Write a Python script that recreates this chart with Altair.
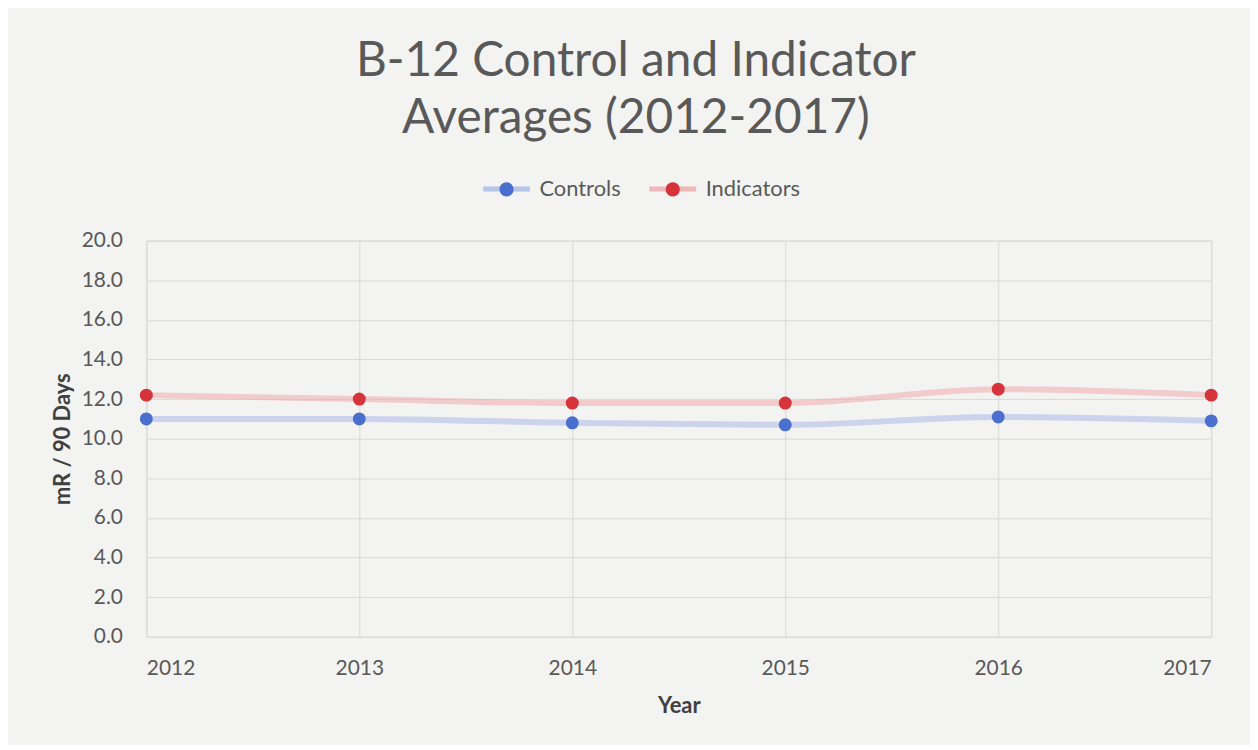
import altair as alt
import pandas as pd

years = [2012, 2013, 2014, 2015, 2016, 2017]
controls = [11.0, 11.0, 10.8, 10.7, 11.1, 10.9]
indicators = [12.2, 12.0, 11.8, 11.8, 12.5, 12.2]
series_names = ["Controls", "Indicators"]
series_colors = ["#4a6fce", "#d6333a"]
line_colors = ["#a9b9e8", "#f0a9ab"]
y_ticks = [0, 2, 4, 6, 8, 10, 12, 14, 16, 18, 20]

rows = []
for y, c, i in zip(years, controls, indicators):
    rows.append({"Year": y, "Series": "Controls", "Value": c})
    rows.append({"Year": y, "Series": "Indicators", "Value": i})
df = pd.DataFrame(rows)

FONT = "Lato"
GRAY = "#595959"

x_enc = alt.X("Year:Q", scale=alt.Scale(domain=[2012, 2017], nice=False, zero=False),
              axis=alt.Axis(values=years, format="d", title="Year", labelFontSize=21,
                            labelPadding=21, titleFontSize=22, titleFontWeight="bold",
                            titlePadding=17, titleColor="#404040", labelColor=GRAY,
                            domain=False, ticks=False, grid=True, gridColor="#d9d9d9",
                            labelFont=FONT, titleFont=FONT, labelOverlap=False))
y_enc = alt.Y("Value:Q", scale=alt.Scale(domain=[0, 20], nice=False),
              axis=alt.Axis(values=y_ticks, format=".1f", title="mR / 90 Days",
                            labelFontSize=21, labelPadding=24, titleFontSize=22,
                            titleFontWeight="bold", titlePadding=7, titleColor="#404040",
                            labelColor=GRAY, domain=False, ticks=False, grid=True,
                            gridColor="#d9d9d9", labelFont=FONT, titleFont=FONT,
                            labelOverlap=False))

base = alt.Chart(df).encode(x=x_enc, y=y_enc)

LEG_X = 336
LEG_Y = -78
SYM = 2209
COL_PAD = 18
LAB_OFF = 7
line_path = "M -1 0 L 1 0"
circle_path = ("M -1 0 L -1 0 M 1 0 L 1 0 "
               "M -0.3 0 A 0.3 0.3 0 1 1 0.3 0 A 0.3 0.3 0 1 1 -0.3 0 Z")

lines = base.mark_line(interpolate="monotone", strokeWidth=6, opacity=0.55).encode(
    color=alt.Color("Series:N", scale=alt.Scale(domain=series_names, range=line_colors),
                    legend=alt.Legend(orient="none", legendX=LEG_X, legendY=LEG_Y,
                                      direction="horizontal", title=None, symbolType=line_path,
                                      symbolSize=SYM, symbolStrokeWidth=5, symbolOpacity=0.8,
                                      labelFontSize=22, labelColor="transparent", labelFont=FONT,
                                      columnPadding=COL_PAD, labelOffset=LAB_OFF)),
)
points = base.mark_point(filled=True, size=170, opacity=1).encode(
    color=alt.Color("Series:N", scale=alt.Scale(domain=series_names, range=series_colors),
                    legend=alt.Legend(orient="none", legendX=LEG_X, legendY=LEG_Y,
                                      direction="horizontal", title=None, symbolType=circle_path,
                                      symbolSize=SYM, symbolStrokeWidth=5,
                                      symbolStrokeColor="transparent",
                                      labelFontSize=22, labelColor=GRAY, labelFont=FONT,
                                      columnPadding=COL_PAD, labelOffset=LAB_OFF)),
)

chart = alt.layer(lines, points).resolve_scale(color="independent").properties(
    width=1070, height=398,
    padding={"left": 139, "top": 232, "right": 39, "bottom": 107},
    autosize=alt.AutoSizeParams(type="none"),
    background="#f3f3f2",
    title=alt.TitleParams(["B-12 Control and Indicator", "Averages (2012-2017)"],
                          font=FONT, fontSize=48, fontWeight="normal", color=GRAY,
                          anchor="middle", dx=-43, offset=20, lineHeight=57),
).configure_view(stroke="#d9d9d9", strokeWidth=1)

chart.save("out.html", embed_options={"renderer": "svg", "actions": False})
